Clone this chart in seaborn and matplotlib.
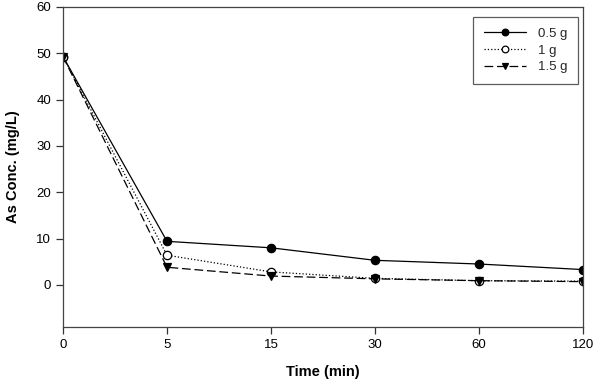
import numpy as np
import pandas as pd
import matplotlib
matplotlib.use("Agg")
import matplotlib.pyplot as plt
import seaborn as sns

times = ["0", "5", "15", "30", "60", "120"]
s05 = [49.3, 9.4, 8.0, 5.3, 4.5, 3.3]
s1 = [49.3, 6.4, 2.8, 1.4, 0.9, 0.8]
s15 = [49.3, 3.8, 1.9, 1.3, 0.9, 0.7]
labels = ["0.5 g", "1 g", "1.5 g"]

sns.set_style("ticks")
plt.rcParams['font.family'] = ['Liberation Sans', 'DejaVu Sans']

rows = []
for lab, vals in zip(labels, [s05, s1, s15]):
    for i, (t, v) in enumerate(zip(times, vals)):
        rows.append({"pos": i, "time": t, "conc": v, "dose": lab})
df = pd.DataFrame(rows)

fig = plt.figure(figsize=(5.97, 3.80), dpi=100)
ax = fig.add_axes([63/597, 1-327/380, (583-63)/597, (327-7)/380])

styles = {
    "0.5 g": dict(linestyle="-", marker="o", mfc="black"),
    "1 g": dict(linestyle=":", marker="o", mfc="white"),
    "1.5 g": dict(linestyle=(0, (7, 3)), marker="v", mfc="black"),
}
for lab in labels:
    st = styles[lab]
    sns.lineplot(data=df[df.dose == lab], x="pos", y="conc", ax=ax, color="black",
                 linewidth=0.9, linestyle=st["linestyle"], marker=st["marker"],
                 markersize=6, markerfacecolor=st["mfc"], markeredgecolor="black",
                 markeredgewidth=0.9, label=lab)

ax.set_xlim(0, 5)
ax.set_ylim(-9.1, 60)
ax.set_xticks(range(len(times)))
ax.set_xticklabels(times)
ax.set_yticks(np.arange(0, 61, 10))
ax.tick_params(direction="out", length=5, width=0.9, labelsize=9.5, colors="#333333",
               labelcolor="black")
for sp in ax.spines.values():
    sp.set_linewidth(0.9)
    sp.set_color("#444444")
ax.set_xlabel("Time (min)", fontsize=10.5, fontweight="bold", labelpad=10, color="black")
ax.set_ylabel("As Conc. (mg/L)", fontsize=10.5, fontweight="bold", labelpad=12, color="black")

leg = ax.legend(loc="upper right", bbox_to_anchor=(0.990, 0.969), fontsize=9.5,
                frameon=True, fancybox=False, handlelength=3.2, handletextpad=0.9,
                borderpad=0.8, labelspacing=0.35, borderaxespad=0.0, markerscale=0.8)
leg.get_frame().set_edgecolor("#333333")
leg.get_frame().set_linewidth(0.9)

fig.savefig("out.png", dpi=100)
